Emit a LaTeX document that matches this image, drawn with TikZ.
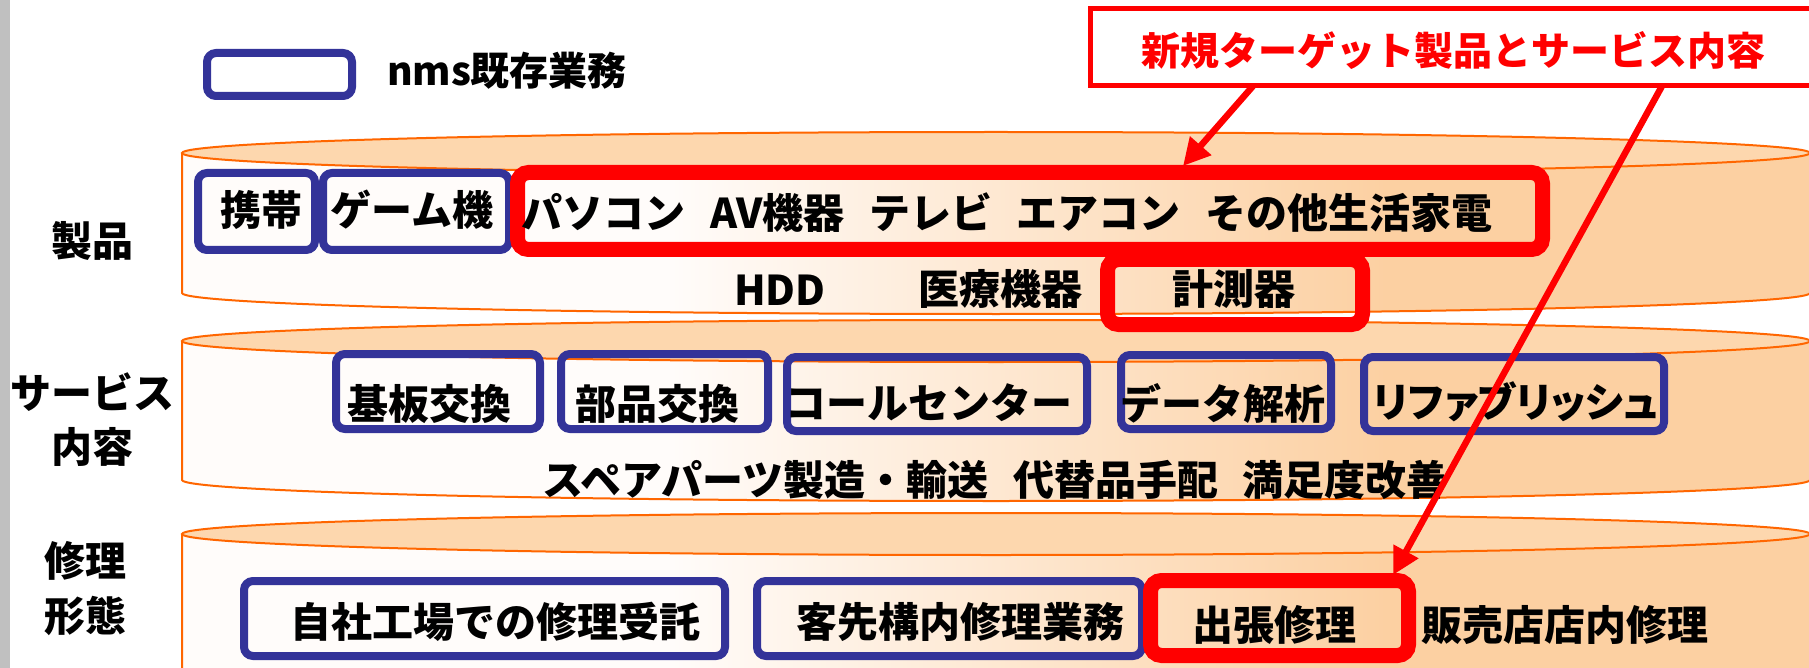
\documentclass[tikz,border=0pt]{standalone}
\usepackage{fontspec}
\setmainfont{Noto Sans CJK JP}
\newfontfamily\pj{Noto Sans CJK JP}[RawFeature=+palt]
\usetikzlibrary{arrows.meta}
\definecolor{cylline}{HTML}{FF6600}
\definecolor{peachtop}{HTML}{FDD7AE}
\definecolor{peachside}{HTML}{FCD0A2}
\definecolor{cw}{HTML}{FFFCFA}
\definecolor{nmsblue}{HTML}{333399}
\definecolor{grayedge}{HTML}{C0C0C0}
\pgfdeclarehorizontalshading{cylshade}{100bp}{color(0bp)=(cw); color(25bp)=(cw); color(40bp)=(cw); color(62bp)=(peachside); color(100bp)=(peachside)}
\tikzset{
  cylstroke/.style={draw=cylline, line width=2pt},
  nmsbox/.style={draw=nmsblue, line width=8pt, rounded corners=9pt, inner sep=0pt},
  newbox/.style={draw=red, line width=15pt, rounded corners=11pt, inner sep=0pt},
  txt/.style={font=\bfseries\fontsize{41}{44}\selectfont, inner sep=0pt, anchor=center},
  ttl/.style={font=\bfseries\fontsize{39}{44}\selectfont, inner sep=0pt, anchor=center},
  arr/.style={draw=red, line width=6.5pt, -{Triangle[length=27pt,width=27pt]}},
}
\begin{document}
\begin{tikzpicture}[x=1pt,y=-1pt]
\useasboundingbox (0,0) rectangle (1809,668);
\fill[white] (0,0) rectangle (1809,668);
\fill[grayedge] (0,0) rectangle (10,668);

% cylinders
\foreach \T/\B in {153/293, 341/480, 534/674}{
  \path[shading=cylshade] (182,\T) -- (182,\B) arc[start angle=180,end angle=360,x radius=814pt,y radius=21pt] -- (1810,\T) -- cycle;
  \draw[cylstroke] (182,\T) -- (182,\B) arc[start angle=180,end angle=360,x radius=814pt,y radius=21pt];
  \draw[cylstroke, fill=peachtop] (996,\T) ellipse[x radius=814pt, y radius=21pt];
}

% legend
\node[nmsbox, minimum width=145pt, minimum height=43pt] (legbox) at (279.5,74.5) {};
\node[ttl] (legtxt) at (507,71) {nms既存業務};

% title
\node[draw=red, line width=5pt, minimum width=759.5pt, minimum height=77pt, inner sep=0pt] (title) at (1470.25,47) {};
\node[ttl, text=red] (titletxt) at (1453,51) {新規ターゲット製品とサービス内容};

% row labels
\node[txt] (lprod) at (92,241) {製品};
\node[txt, align=center, font=\bfseries\fontsize{41}{54}\selectfont] (lserv) at (92,420) {サービス\\内容};
\node[txt, align=center, font=\bfseries\fontsize{41}{55}\selectfont] (lrep) at (85,589) {修理\\形態};

% product row
\node[nmsbox, minimum width=117pt, minimum height=77pt] (bkeitai) at (256.5,211.5) {};
\node[nmsbox, minimum width=186pt, minimum height=77pt] (bgame) at (416,211.5) {};
\node[newbox, minimum width=1025pt, minimum height=77pt] (bbig) at (1030,211) {};
\node[newbox, minimum width=255pt, minimum height=65pt] (bkeisoku) at (1235,292) {};
\node[txt] (tkeitai) at (261,210) {携帯};
\node[txt] (tgame) at (412,210) {ゲーム機};
\node[txt] (tbig) at (1007,213) {パソコン\hspace{0.6em}AV機器\hspace{0.6em}テレビ\hspace{0.6em}エアコン\hspace{0.6em}その他生活家電};
\node[txt] (thdd) at (780,290) {HDD};
\node[txt] (tiryo) at (1000,289) {医療機器};
\node[txt] (tkeisoku) at (1234,289) {計測器};

% service row
\node[nmsbox, minimum width=204pt, minimum height=75pt] (bkiban) at (438,391.5) {};
\node[nmsbox, minimum width=207pt, minimum height=75pt] (bbuhin) at (664.5,391.5) {};
\node[nmsbox, minimum width=300pt, minimum height=74pt] (bcall) at (937,394) {};
\node[nmsbox, minimum width=210pt, minimum height=74pt] (bdata) at (1226,392) {};
\node[nmsbox, minimum width=300pt, minimum height=74pt] (brefurb) at (1514,394) {};
\node[txt] (tkiban) at (429,404) {基板交換};
\node[txt] (tbuhin) at (657,404) {部品交換};
\node[txt] (tcall) at (929,403) {コールセンター};
\node[txt] (tdata) at (1223,403) {データ解析};
\node[txt, font=\pj\bfseries\fontsize{41}{44}\selectfont] (trefurb) at (1516,402) {リファブリッシュ};
\node[txt] (tspare) at (995,480) {スペアパーツ製造・輸送\hspace{0.6em}代替品手配\hspace{0.6em}満足度改善};

% repair row
\node[nmsbox, minimum width=481pt, minimum height=75pt] (bjisha) at (484.5,618.5) {};
\node[nmsbox, minimum width=385pt, minimum height=75pt] (bkyaku) at (949.5,618.5) {};
\node[newbox, minimum width=258pt, minimum height=75pt] (bshuccho) at (1279.5,618) {};
\node[txt] (tjisha) at (495,622) {自社工場での修理受託};
\node[txt] (tkyaku) at (960,622) {客先構内修理業務};
\node[txt] (tshuccho) at (1274,625) {出張修理};
\node[txt] (thanbai) at (1565,625) {販売店店内修理};

% arrows
\coordinate (a1s) at (1253,86);
\coordinate (a1e) at (1183,166);
\coordinate (a2s) at (1662,86);
\coordinate (a2e) at (1393,575);
\draw[arr] (a1s) -- (a1e);
\draw[arr] (a2s) -- (a2e);
\end{tikzpicture}
\end{document}
